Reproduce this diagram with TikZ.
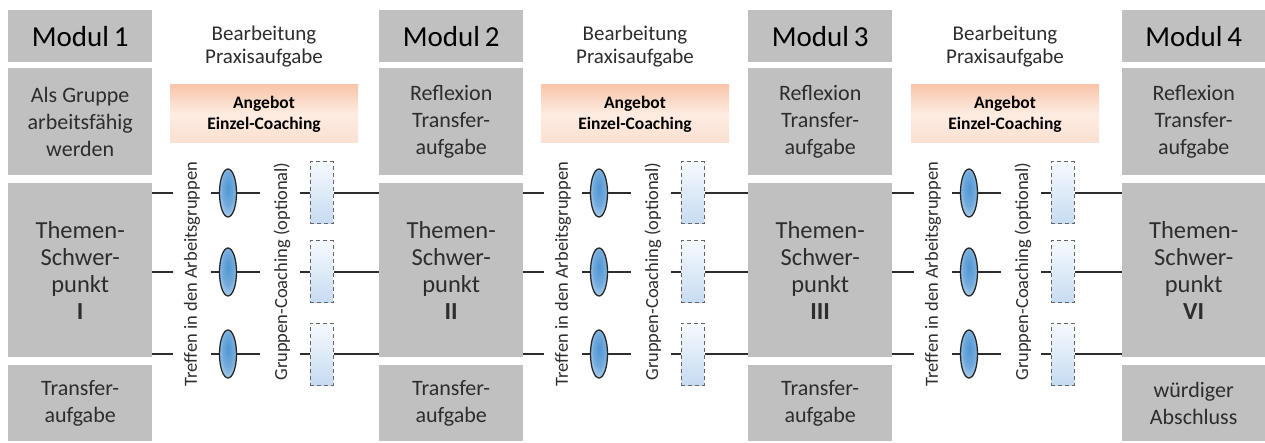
\documentclass[tikz,border=0pt]{standalone}
\usepackage{fontspec}
\setmainfont{Carlito}
\usetikzlibrary{shapes.geometric}
\definecolor{boxgray}{RGB}{192,192,192}
\definecolor{txt}{RGB}{45,45,45}
\definecolor{peachA}{RGB}{248,198,170}
\definecolor{peachB}{RGB}{253,236,226}
\definecolor{peachC}{RGB}{251,224,208}
\definecolor{blueTop}{RGB}{214,233,248}
\definecolor{blueMid}{RGB}{80,150,212}
\definecolor{rectTop}{RGB}{246,250,254}
\definecolor{rectBot}{RGB}{198,219,241}
\definecolor{linec}{RGB}{45,45,45}
\pgfdeclareradialshading{ovalshade}{\pgfpoint{0bp}{6bp}}{%
  color(0bp)=(blueMid); color(18bp)=(blueMid!80!white); color(36bp)=(blueTop); color(50bp)=(blueTop)}
\begin{document}
\begin{tikzpicture}[x=1pt,y=-1pt,
  gbox/.style={fill=boxgray, inner sep=0pt, text=txt, align=center, anchor=north west,
    font=\fontsize{22pt}{27pt}\selectfont},
  modbox/.style={gbox, text=black, font=\fontsize{29pt}{30pt}\selectfont},
  thbox/.style={gbox, font=\fontsize{24.5pt}{27pt}\selectfont},
  head/.style={inner sep=0pt, align=center, text=txt, font=\fontsize{21pt}{23pt}\selectfont},
  angebot/.style={inner sep=0pt, align=center, text=black, minimum width=188pt, minimum height=58pt,
    top color=peachA, bottom color=peachC, middle color=peachB,
    font=\bfseries\fontsize{17.5pt}{21pt}\selectfont},
  rot/.style={rotate=90, inner sep=0pt, text=txt, font=\fontsize{18.5pt}{20pt}\selectfont},
  oval/.style={ellipse, draw=black!85, line width=1.3pt, minimum width=17pt, minimum height=48pt,
    inner sep=0pt, shading=ovalshade},
  dbox/.style={rectangle, draw=black!60, dash pattern=on 4pt off 3pt, line width=1pt,
    minimum width=23pt, minimum height=62pt, inner sep=0pt, top color=rectTop, bottom color=rectBot},
  conn/.style={draw=linec, line width=1.6pt}
]
\useasboundingbox (0,0) rectangle (1265,443);

% column boxes
\foreach \c/\x/\w/\two/\num/\last in {
  1/8/144/{Als Gruppe\\arbeitsfähig\\werden}/I/{Transfer-\\aufgabe},
  2/379/144/{Reflexion\\Transfer-\\aufgabe}/II/{Transfer-\\aufgabe},
  3/748/144/{Reflexion\\Transfer-\\aufgabe}/III/{Transfer-\\aufgabe},
  4/1122/143/{Reflexion\\Transfer-\\aufgabe}/VI/{würdiger\\Abschluss}} {
  \node[modbox, minimum width=\w pt, minimum height=52pt] (m\c) at (\x,10) {Modul\,\c};
  \node[gbox, minimum width=\w pt, minimum height=107pt] (r\c) at (\x,68) {\two};
  \node[thbox, minimum width=\w pt, minimum height=174pt] (t\c) at (\x,183)
    {Themen-\\Schwer-\\punkt\\\textbf{\num}};
  \node[gbox, minimum width=\w pt, minimum height=76pt] (b\c) at (\x,365) {\last};
}

% gaps between columns
\foreach \g/\L/\nl/\nr in {1/152/t1/t2, 2/523/t2/t3, 3/893/t3/t4} {
  \node[head] (hd\g) at (\L+112,46.4) {Bearbeitung\\Praxisaufgabe};
  \node[angebot] (ang\g) at (\L+112,114) {Angebot\\Einzel-Coaching};
  \node[rot] (tr\g) at (\L+40,274) {Treffen in den Arbeitsgruppen};
  \node[rot] (gc\g) at (\L+130,271.5) {Gruppen-Coaching (optional)};
  \foreach \r/\y in {1/193, 2/272, 3/354} {
    \coordinate (s\g\r) at (\L+21,\y);
    \draw[conn] (\nl.east |- s\g\r) -- (s\g\r);
    \coordinate (ea\g\r) at (\L+59,\y);
    \coordinate (eb\g\r) at (\L+108,\y);
    \draw[conn] (ea\g\r) -- (eb\g\r);
    \node[oval] (ov\g\r) at (\L+76,\y) {};
    \node[dbox] (db\g\r) at (\L+169.5,\y) {};
    \coordinate (c\g\r) at (\L+148,\y);
    \draw[conn] (c\g\r) -- (db\g\r.west);
    \draw[conn] (db\g\r.east) -- (\nr.west |- db\g\r.east);
  }
}
\end{tikzpicture}
\end{document}
